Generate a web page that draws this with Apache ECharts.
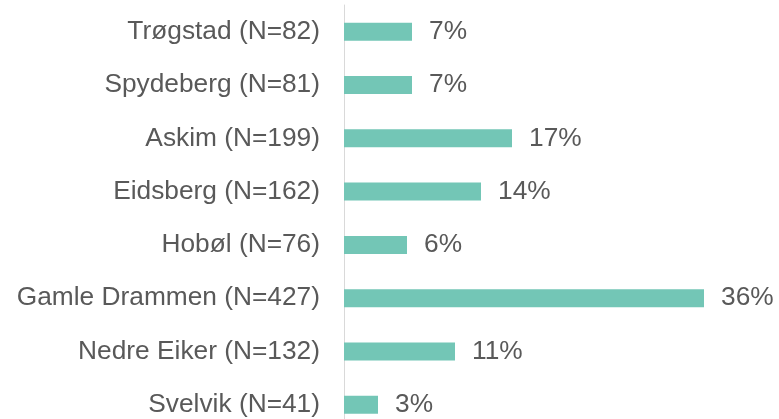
<!DOCTYPE html>
<html><head><meta charset="utf-8">
<script src="https://cdn.jsdelivr.net/npm/echarts@6/dist/echarts.min.js"></script>
<style>html,body{margin:0;padding:0;background:#fff;overflow:hidden}#c{width:779px;height:460px}</style>
</head><body><div id="c"></div>
<script>
const categories = ["Trøgstad (N=82)","Spydeberg (N=81)","Askim (N=199)","Eidsberg (N=162)","Hobøl (N=76)","Gamle Drammen (N=427)","Nedre Eiker (N=132)","Svelvik (N=41)"];
const values = [6.8, 6.8, 16.8, 13.7, 6.3, 36.0, 11.1, 3.4];
const chart = echarts.init(document.getElementById('c'), null, {renderer:'canvas'});
chart.setOption({
  animation:false,
  grid:{left:344, top:5, width:400, height:426.5, containLabel:false},
  xAxis:{type:'value', min:0, max:40, show:false},
  yAxis:{type:'category', data:categories, inverse:true,
    axisLine:{show:true, lineStyle:{color:'#d9d9d9', width:1}},
    axisTick:{show:false}, splitLine:{show:false},
    axisLabel:{margin:24, color:'#595959', fontSize:26.3, fontFamily:'Liberation Sans, Arial, sans-serif'}},
  series:[{type:'bar', data:values, barWidth:18,
    itemStyle:{color:'#73C6B6'},
    label:{show:true, position:'right', distance:17, color:'#595959', fontSize:26.3,
      fontFamily:'Liberation Sans, Arial, sans-serif',
      formatter:p=>Math.round(p.value)+'%'}}]
});
</script></body></html>
